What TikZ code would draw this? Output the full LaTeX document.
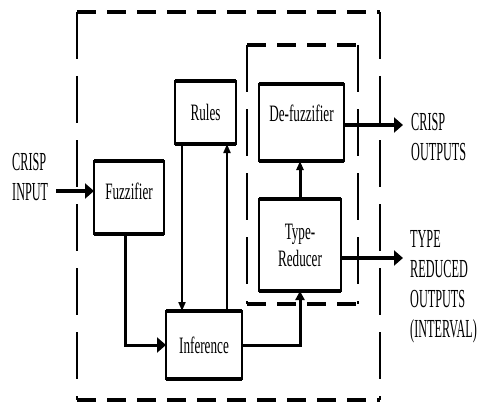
\documentclass[tikz,border=0pt]{standalone}
\usepackage{fontspec}
\setmainfont{Liberation Serif}[FakeStretch=0.56]
\newfontfamily\lblfont{Liberation Serif}[FakeStretch=0.47]
\usetikzlibrary{arrows.meta}

\begin{document}
\begin{tikzpicture}[
  x=1pt, y=-1pt,
  box/.style={rectangle, draw=black, line width=2.4pt, outer sep=0pt, align=center,
              inner sep=2pt, font=\fontsize{23.5}{27}\selectfont},
  lbl/.style={anchor=west, align=left, inner sep=0pt, font=\lblfont\fontsize{26}{30}\selectfont},
  edgeh/.style={line width=4.5pt, dash pattern=on 19pt off 11pt},
  edgev/.style={line width=2.2pt, dash pattern=on 47pt off 17pt},
  arr/.style={-{Triangle[length=9pt,width=15pt]}, line width=4pt},
  thinarr/.style={-{Triangle[length=9pt,width=7pt]}, line width=2pt}
]
\useasboundingbox (0,0) rectangle (482,404);
% blocks
\node[box, minimum width=70pt, minimum height=73pt, text depth=12pt] (fuz) at (129,197.5) {Fuzzifier};
\node[box, minimum width=61pt, minimum height=63pt] (rul) at (205.5,112.5) {Rules};
\node[box, minimum width=76pt, minimum height=68pt] (inf) at (204,345) {Inference};
\node[box, minimum width=85pt, minimum height=77pt, text depth=18pt] (def) at (301.5,122.5) {De-fuzzifier};
\node[box, minimum width=82pt, minimum height=92pt] (typ) at (300,245) {Type-\\Reducer};
\foreach \b in {fuz,rul,inf,def,typ}
  \draw[line width=4.5pt] (\b.north west) -- (\b.north east) (\b.south west) -- (\b.south east);
% dashed frames
\coordinate (otl) at (77,12); \coordinate (otr) at (380,12);
\coordinate (obl) at (77,400); \coordinate (obr) at (380,400);
\coordinate (itl) at (247,45); \coordinate (itr) at (358,45);
\coordinate (ibl) at (247,304); \coordinate (ibr) at (358,304);
\draw[edgeh] (otl) -- (otr); \draw[edgeh] (obl) -- (obr);
\draw[edgev] (otl) -- (obl); \draw[edgev] (otr) -- (obr);
\draw[edgeh] (itl) -- (itr); \draw[edgeh] (ibl) -- (ibr);
\draw[edgev] (itl) -- (ibl); \draw[edgev] (itr) -- (ibr);
% labels
\node[lbl] (crin) at (12,177) {CRISP\\INPUT};
\node[lbl] (crout) at (411,137) {CRISP\\OUTPUTS};
\node[lbl] (redlbl) at (410,287) {TYPE\\REDUCED\\OUTPUTS\\(INTERVAL)};
% connections
\coordinate (inarr) at (56,191);
\coordinate (crispout) at (403,125);
\coordinate (redout) at (403,258);
\draw[arr] (inarr) -- (inarr -| fuz.west);
\draw[arr, line width=3pt] ([xshift=-4pt]fuz.south) |- (inf.west);
\draw[thinarr] ([xshift=7pt]rul.south west) -- ([xshift=7pt]rul.south west |- inf.north);
\draw[thinarr] ([xshift=-9pt]rul.south east |- inf.north) -- ([xshift=-9pt]rul.south east);
\draw[arr, line width=3pt, -{Triangle[length=9pt,width=9pt]}] (inf.east) -| (typ.south);
\draw[thinarr, line width=3pt] (typ.north) -- (typ.north |- def.south);
\draw[arr] (def.east |- crispout) -- (crispout);
\draw[arr] (typ.east |- redout) -- (redout);
\end{tikzpicture}
\end{document}
